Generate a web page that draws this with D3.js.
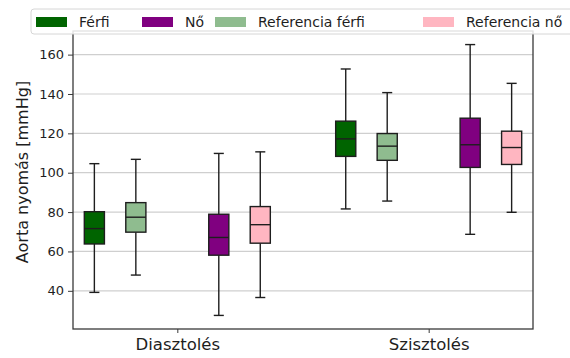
<!DOCTYPE html>
<html>
<head>
<meta charset="utf-8">
<script src="https://cdn.jsdelivr.net/npm/d3@7"></script>
<style>
  html, body { margin: 0; padding: 0; background: #fff; }
  svg { display: block; font-family: "DejaVu Sans", sans-serif; }
</style>
</head>
<body>
<svg id="chart" width="570" height="358"></svg>
<script>
// Groups on the x axis
const groups = ["Diasztolés", "Szisztolés"];

// Series shown in each group
const seriesNames = ["Férfi", "Referencia férfi", "Nő", "Referencia nő"];
const seriesColors = ["#006400", "#8fbc8f", "#800080", "#ffb6c1"];
const seriesOffsets = [-0.33, -0.165, 0.165, 0.33];
const legendOrder = ["Férfi", "Nő", "Referencia férfi", "Referencia nő"];

// Box statistics per series: [whisker low, Q1, median, Q3, whisker high], one row per group
const ferfi        = [[39.2, 63.8, 71.6, 80.2, 104.6], [81.6, 108.3, 117.2, 126.2, 152.7]];
const refFerfi     = [[48.0, 69.8, 77.4, 84.8, 106.8], [85.6, 106.3, 113.5, 119.9, 140.7]];
const no           = [[27.5, 58.1, 67.1, 78.9, 109.8], [68.7, 102.7, 114.2, 127.7, 165.1]];
const refNo        = [[36.6, 64.2, 73.6, 82.8, 110.6], [79.9, 104.2, 112.8, 121.1, 145.4]];
const seriesStats = [ferfi, refFerfi, no, refNo];

const yTicks = [40, 60, 80, 100, 120, 140, 160];
const yLabel = "Aorta nyomás [mmHg]";

const svg = d3.select("#chart");
const plotLeft = 73, plotRight = 533, plotTop = 31, plotBottom = 329;

const x = d3.scaleLinear().domain([-0.415, 1.415]).range([plotLeft, plotRight]);
const y = d3.scaleLinear().domain([20.6, 172]).range([plotBottom, plotTop]);
const boxW = 0.08;
const capW = boxW / 2;
const ink = "#1e1e1e";

// Horizontal grid
svg.append("g")
  .selectAll("line")
  .data(yTicks)
  .join("line")
  .attr("x1", plotLeft).attr("x2", plotRight)
  .attr("y1", d => y(d)).attr("y2", d => y(d))
  .attr("stroke", "#cfcfcf").attr("stroke-width", 1.2);

// Boxes
const boxes = [];
seriesStats.forEach((rows, si) => {
  rows.forEach((s, gi) => {
    boxes.push({ pos: gi + seriesOffsets[si], s, color: seriesColors[si] });
  });
});

const bg = svg.append("g").selectAll("g").data(boxes).join("g");
// whiskers
bg.append("line")
  .attr("x1", d => x(d.pos)).attr("x2", d => x(d.pos))
  .attr("y1", d => y(d.s[0])).attr("y2", d => y(d.s[1]))
  .attr("stroke", ink).attr("stroke-width", 1.4);
bg.append("line")
  .attr("x1", d => x(d.pos)).attr("x2", d => x(d.pos))
  .attr("y1", d => y(d.s[3])).attr("y2", d => y(d.s[4]))
  .attr("stroke", ink).attr("stroke-width", 1.4);
// caps
[0, 4].forEach(k => {
  bg.append("line")
    .attr("x1", d => x(d.pos - capW / 2)).attr("x2", d => x(d.pos + capW / 2))
    .attr("y1", d => y(d.s[k])).attr("y2", d => y(d.s[k]))
    .attr("stroke", ink).attr("stroke-width", 1.4);
});
// box body
bg.append("rect")
  .attr("x", d => x(d.pos - boxW / 2))
  .attr("width", d => x(d.pos + boxW / 2) - x(d.pos - boxW / 2))
  .attr("y", d => y(d.s[3]))
  .attr("height", d => y(d.s[1]) - y(d.s[3]))
  .attr("fill", d => d.color)
  .attr("stroke", ink).attr("stroke-width", 1.4);
// median
bg.append("line")
  .attr("x1", d => x(d.pos - boxW / 2)).attr("x2", d => x(d.pos + boxW / 2))
  .attr("y1", d => y(d.s[2])).attr("y2", d => y(d.s[2]))
  .attr("stroke", ink).attr("stroke-width", 1.4);

// Frame
svg.append("rect")
  .attr("x", plotLeft).attr("y", plotTop)
  .attr("width", plotRight - plotLeft).attr("height", plotBottom - plotTop)
  .attr("fill", "none").attr("stroke", "#3a3a3a").attr("stroke-width", 1.3);

// Y axis
const yAxis = svg.append("g")
  .attr("transform", `translate(${plotLeft},0)`)
  .call(d3.axisLeft(y).tickValues(yTicks).tickSize(5).tickPadding(4));
yAxis.select(".domain").remove();
yAxis.selectAll("line").attr("stroke", "#3a3a3a");
yAxis.selectAll("text").attr("font-size", 13).attr("fill", ink)
  .attr("font-family", "DejaVu Sans");

// X axis
const xAxis = svg.append("g")
  .attr("transform", `translate(0,${plotBottom})`)
  .call(d3.axisBottom(x).tickValues([0, 1]).tickFormat((d, i) => groups[i]).tickSize(4).tickPadding(5));
xAxis.select(".domain").remove();
xAxis.selectAll("line").attr("stroke", "#3a3a3a");
xAxis.selectAll("text").attr("font-size", 16.5).attr("fill", ink)
  .attr("font-family", "DejaVu Sans");

// Y label
svg.append("text")
  .attr("transform", `translate(${28},${172}) rotate(-90)`)
  .attr("text-anchor", "middle")
  .attr("font-size", 16).attr("fill", ink)
  .text(yLabel);

// Legend
const legend = svg.append("g");
legend.append("rect")
  .attr("x", 31).attr("y", 9).attr("width", 560).attr("height", 25)
  .attr("rx", 3)
  .attr("fill", "#fff").attr("fill-opacity", 0.85)
  .attr("stroke", "#d6d6d6").attr("stroke-width", 1);
const legendX = [36, 142, 215, 423];
const li = legend.selectAll("g.item").data(legendOrder).join("g")
  .attr("class", "item")
  .attr("transform", (d, i) => `translate(${legendX[i]},0)`);
li.append("rect")
  .attr("x", 0).attr("y", 17).attr("width", 31).attr("height", 10)
  .attr("fill", d => seriesColors[seriesNames.indexOf(d)]);
li.append("text")
  .attr("x", 43).attr("y", 27)
  .attr("font-size", 14).attr("fill", ink)
  .text(d => d);
</script>
</body>
</html>
